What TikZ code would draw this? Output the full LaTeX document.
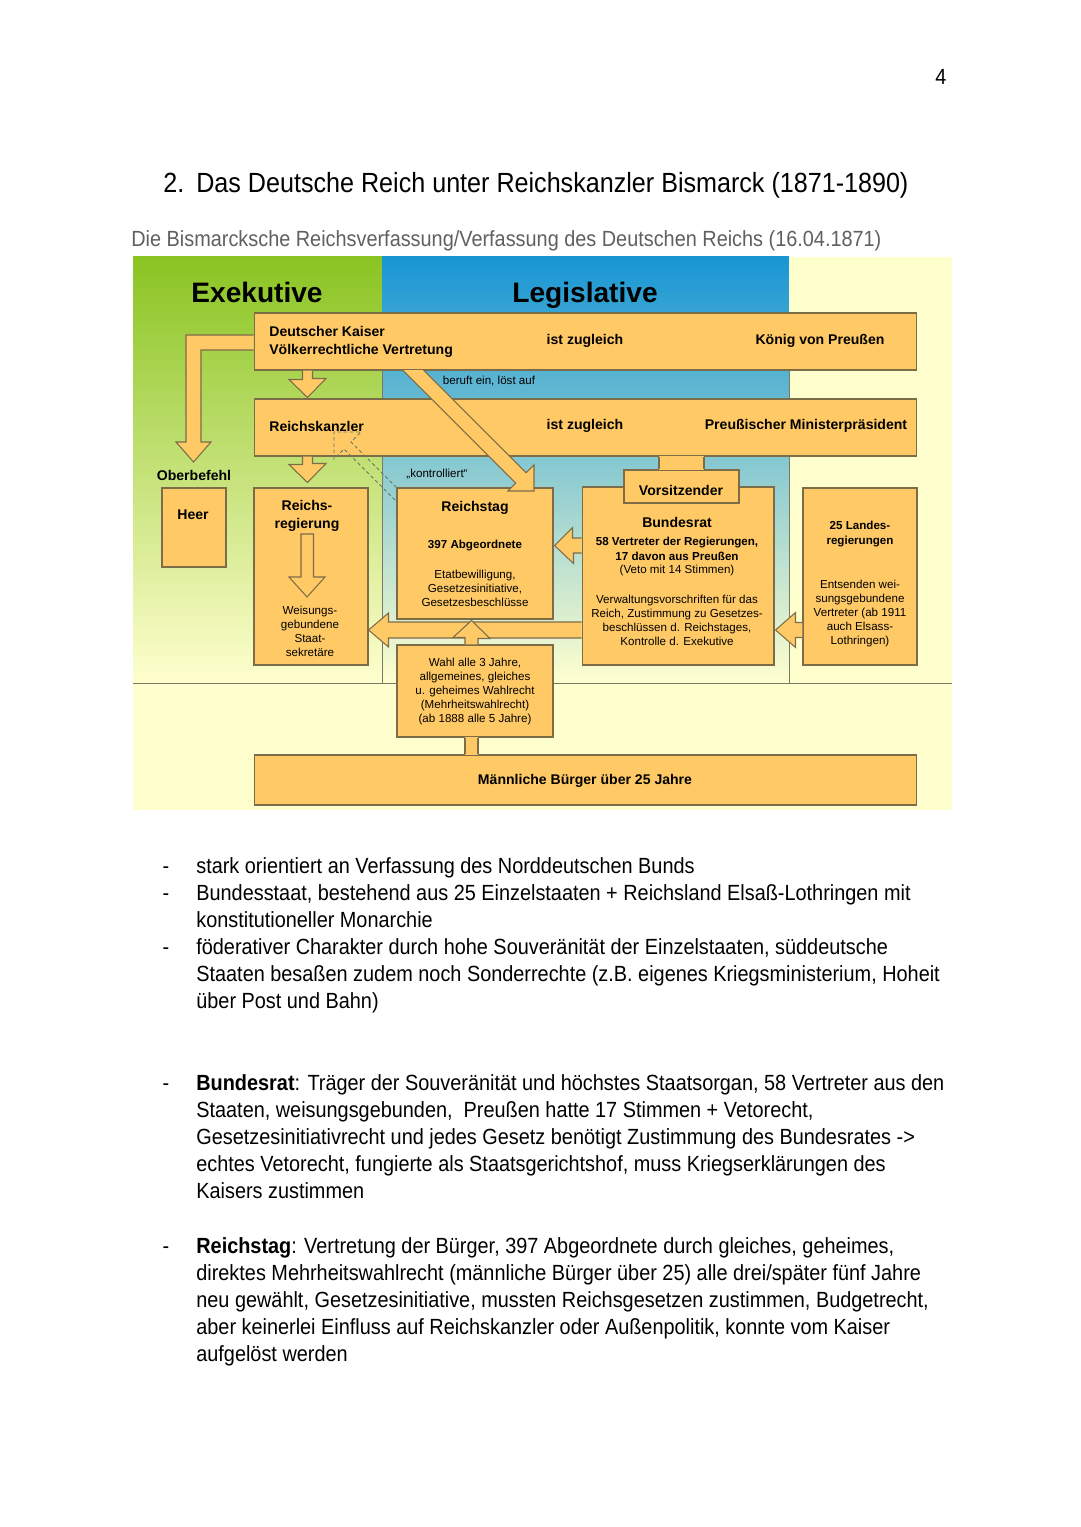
\documentclass[tikz,border=0pt]{standalone}
\usepackage{fontspec}
\setmainfont{Liberation Sans}
\newfontfamily\pagefont{Liberation Sans}[FakeStretch=0.905]
\usetikzlibrary{calc}
\definecolor{boxfill}{RGB}{255,202,102}
\definecolor{boxline}{RGB}{125,108,72}
\definecolor{exgreen}{RGB}{138,196,34}
\definecolor{exmid}{RGB}{200,228,125}
\definecolor{legblue}{RGB}{24,150,212}
\definecolor{legmid}{RGB}{150,196,216}
\definecolor{pale}{RGB}{255,255,206}
\definecolor{divline}{RGB}{120,120,100}
\definecolor{kdashcol}{RGB}{100,120,100}
\definecolor{subgray}{RGB}{96,96,96}
\begin{document}
\begin{tikzpicture}[x=0.02cm,y=-0.02cm]
  \tikzset{bx/.style={draw=boxline,fill=boxfill,line width=0.6pt,rectangle,inner sep=0pt},
    arr/.style={draw=boxline,fill=boxfill,line width=0.6pt},
    bl/.style={draw=boxline,line width=0.6pt},
    kdash/.style={draw=kdashcol,dashed,dash pattern=on 2pt off 1.5pt,line width=0.5pt},
    hd/.style={font=\bfseries\fontsize{16}{19}\selectfont,inner sep=0pt,anchor=base},
    lb/.style={font=\bfseries\fontsize{8}{10.2}\selectfont,inner sep=0pt,align=center},
    sb/.style={font=\bfseries\fontsize{6.6}{8.5}\selectfont,inner sep=0pt,align=center},
    sr/.style={font=\fontsize{6.6}{8}\selectfont,inner sep=0pt,align=center},
    pg/.style={font=\pagefont\fontsize{12.5}{15.4}\selectfont,inner sep=0pt,anchor=base west},
    bul/.style={font=\pagefont\fontsize{12.5}{15.4}\selectfont,inner sep=0pt,anchor=base}}
  \useasboundingbox (0,0) rectangle (1080,1527);
  \fill[white] (0,0) rectangle (1080,1527);
  % page head
  \node[bul] (pnum) at (941,85) {4};
  \node[pg,font=\pagefont\fontsize{15.8}{19}\selectfont] (tnum) at (163,193) {2.};
  \node[pg,font=\pagefont\fontsize{15.8}{19}\selectfont] (title) at (196,193) {Das Deutsche Reich unter Reichskanzler Bismarck (1871-1890)};
  \node[pg,text=subgray] (sub) at (131,247) {Die Bismarcksche Reichsverfassung/Verfassung des Deutschen Reichs (16.04.1871)};
  % background of the chart
  \shade[top color=exgreen,middle color=exmid,bottom color=pale] (133,257) rectangle (382,683);
  \shade[top color=legblue,middle color=legmid,bottom color=pale] (382,257) rectangle (789,683);
  \fill[pale] (789,257) rectangle (952,683);
  \fill[pale] (133,683) rectangle (952,810);
  \draw[divline,line width=0.5pt] (382,313) -- (382,683) (789,313) -- (789,683) (133,683) -- (952,683);
  \node[hd] (exek) at (257,303) {Exekutive};
  \node[hd] (legis) at (585,303) {Legislative};
  % boxes
  \node[bx,minimum width=13.26cm,minimum height=1.14cm] (kaiser) at (585.5,341.5) {};
  \node[bx,minimum width=13.26cm,minimum height=1.14cm] (kanzler) at (585.5,427.5) {};
  \node[bx,minimum width=1.28cm,minimum height=1.58cm] (heer) at (194,527.5) {};
  \node[bx,minimum width=2.28cm,minimum height=3.54cm] (regierung) at (311,576.5) {};
  \node[bx,minimum width=3.12cm,minimum height=2.62cm] (reichstag) at (475,553.5) {};
  \node[bx,minimum width=3.84cm,minimum height=3.56cm] (bundesrat) at (678,576) {};
  \node[bx,minimum width=2.3cm,minimum height=0.66cm] (vorsitz) at (681.5,486.5) {};
  \node[bx,minimum width=2.28cm,minimum height=3.54cm] (landes) at (860,576.5) {};
  \node[bx,minimum width=3.12cm,minimum height=1.84cm] (wahl) at (475,691) {};
  \node[bx,minimum width=13.26cm,minimum height=1cm] (buerger) at (585.5,780) {};
  \coordinate (colA) at (307.5,0);
  \coordinate (colB) at (471.5,0);
  \coordinate (rowB) at (0,545.5);
  \coordinate (rowC) at (0,630);
  % "kontrolliert"
  \draw[kdash] (reichstag.north west) -- (351,442) -- (361,432) -- (334,432) -- (334,459) -- (344,449) -- ($(reichstag.north west)+(0,14)$);
  % block arrows
  \filldraw[arr] ($(kaiser.south -| colA)+(-5,0)$) -- ++(0,9) -- ++(-13.5,0) -- ($(kanzler.north -| colA)+(0,-1)$) -- ++(18.5,-19) -- ++(-13.5,0) -- ($(kaiser.south -| colA)+(5,0)$);
  \filldraw[arr] ($(kanzler.south -| colA)+(-5,0)$) -- ++(0,8) -- ++(-13.5,0) -- ($(regierung.north -| colA)+(0,-5)$) -- ++(18.5,-19) -- ++(-13.5,0) -- ($(kanzler.south -| colA)+(5,0)$);
  \filldraw[arr] ($(kaiser.west)+(0,-6.5)$) -- (186,335) -- (186,442) -- (176,442) -- (193.5,462) -- (211,442) -- (201,442) -- (201,350) -- ($(kaiser.west)+(0,8.5)$);
  \filldraw[arr] (402.6,370) -- (515.7,483.1) -- (507.8,491) -- (534,491) -- (534,464.8) -- (526.1,472.7) -- (423.4,370);
  \filldraw[arr] ($(bundesrat.west |- rowB)+(0,-7.5)$) -- ++(-9,0) -- ++(0,-10.5) -- ($(reichstag.east |- rowB)+(1,0)$) -- ++(19,18) -- ++(0,-10.5) -- ($(bundesrat.west |- rowB)+(0,7.5)$);
  \filldraw[arr] ($(bundesrat.west |- rowC)+(0,-8)$) -- ($(regierung.east |- rowC)+(20,-8)$) -- ++(0,-9) -- (regierung.east |- rowC) -- ++(20,17) -- ++(0,-9) -- ($(bundesrat.west |- rowC)+(0,8)$);
  \filldraw[arr] ($(landes.west |- rowC)+(0,-7.5)$) -- ($(bundesrat.east |- rowC)+(21,-7.5)$) -- ++(0,-10) -- ($(bundesrat.east |- rowC)+(1,0)$) -- ++(20,17.5) -- ++(0,-10) -- ($(landes.west |- rowC)+(0,7.5)$);
  \filldraw[arr] ($(wahl.north -| colB)+(-6.5,0)$) -- ++(0,-7) -- ++(-12,0) -- ($(reichstag.south -| colB)+(0,1)$) -- ++(18.5,18) -- ++(-12,0) -- ($(wahl.north -| colB)+(6.5,0)$);
  \fill[boxfill] ($(wahl.south -| colB)+(-6.5,-1)$) rectangle ($(buerger.north -| colB)+(6.5,1)$);
  \draw[bl] ($(wahl.south -| colB)+(-6.5,0)$) -- ($(buerger.north -| colB)+(-6.5,0)$) ($(wahl.south -| colB)+(6.5,0)$) -- ($(buerger.north -| colB)+(6.5,0)$);
  \fill[boxfill] ($(kanzler.south -| vorsitz)+(-22.5,-1)$) rectangle ($(vorsitz.north)+(22.5,1)$);
  \draw[bl] ($(kanzler.south -| vorsitz)+(-22.5,0)$) -- ($(vorsitz.north)+(-22.5,0)$) ($(kanzler.south -| vorsitz)+(22.5,0)$) -- ($(vorsitz.north)+(22.5,0)$);
  \draw[bl] (301,534) -- (301,577) -- (289,577) -- (307,597) -- (325,577) -- (313.5,577) -- (313.5,534) -- cycle;
  % texts of the chart
  \node[lb,anchor=west,align=left] (kaisertxt) at (269,341.5) {Deutscher Kaiser\\Völkerrechtliche Vertretung};
  \node[lb] (zugl1) at (585,341) {ist zugleich};
  \node[lb] (koenig) at (820,341) {König von Preußen};
  \node[lb,anchor=west] (kanzlertxt) at (269,426) {Reichskanzler};
  \node[lb] (zugl2) at (585,426) {ist zugleich};
  \node[lb] (mp) at (806,426) {Preußischer Ministerpräsident};
  \node[sr] (beruft) at (489,381) {beruft ein, löst auf};
  \node[sr] (kontr) at (437,474) {„kontrolliert“};
  \node[lb] (ober) at (194,475) {Oberbefehl};
  \node[lb] (heertxt) at (193,515) {Heer};
  \node[lb] (regtxt) at (307,516) {Reichs-\\regierung};
  \node[sr] (weis) at (310,631) {Weisungs-\\gebundene\\Staat-\\sekretäre};
  \node[lb] (rtag) at (475,508) {Reichstag};
  \node[sb] (abg) at (475,546) {397 Abgeordnete};
  \node[sr] (etat) at (475,588.5) {Etatbewilligung,\\Gesetzesinitiative,\\Gesetzesbeschlüsse};
  \node[lb] (vors) at (681,490) {Vorsitzender};
  \node[lb] (brat) at (677,522) {Bundesrat};
  \node[sb] (brat58) at (677,548.5) {58 Vertreter der Regierungen,\\17 davon aus Preußen};
  \node[sr] (veto) at (677,570) {(Veto mit 14 Stimmen)};
  \node[sr] (verw) at (677,620) {Verwaltungsvorschriften für das\\Reich, Zustimmung zu Gesetzes-\\beschlüssen d. Reichstages,\\Kontrolle d. Exekutive};
  \node[sb] (l25) at (860,534) {25 Landes-\\regierungen};
  \node[sr] (ents) at (860,613.5) {Entsenden wei-\\sungsgebundene\\Vertreter (ab 1911\\auch Elsass-\\Lothringen)};
  \node[sr] (wahltxt) at (475,691.5) {Wahl alle 3 Jahre,\\allgemeines, gleiches\\u. geheimes Wahlrecht\\(Mehrheitswahlrecht)\\(ab 1888 alle 5 Jahre)};
  \node[lb] (buergtxt) at (585,781) {Männliche Bürger über 25 Jahre};
  % notes below
  \node[bul] (d1) at (166,873) {-};
  \node[bul] (d2) at (166,900) {-};
  \node[bul] (d3) at (166,954) {-};
  \node[bul] (d4) at (166,1090) {-};
  \node[bul] (d5) at (166,1253) {-};
  \node[pg] (n1) at (196,873) {stark orientiert an Verfassung des Norddeutschen Bunds};
  \node[pg] (n2) at (196,900) {Bundesstaat, bestehend aus 25 Einzelstaaten + Reichsland Elsaß-Lothringen mit};
  \node[pg] (n3) at (196,927) {konstitutioneller Monarchie};
  \node[pg] (n4) at (196,954) {föderativer Charakter durch hohe Souveränität der Einzelstaaten, süddeutsche};
  \node[pg] (n5) at (196,981) {Staaten besaßen zudem noch Sonderrechte (z.B. eigenes Kriegsministerium, Hoheit};
  \node[pg] (n6) at (196,1008) {über Post und Bahn)};
  \node[pg] (b1) at (196,1090) {\bfseries Bundesrat\mdseries: Träger der Souveränität und höchstes Staatsorgan, 58 Vertreter aus den};
  \node[pg] (b2) at (196,1117) {Staaten, weisungsgebunden,\ \ Preußen hatte 17 Stimmen + Vetorecht,};
  \node[pg] (b3) at (196,1144) {Gesetzesinitiativrecht und jedes Gesetz benötigt Zustimmung des Bundesrates ->};
  \node[pg] (b4) at (196,1171) {echtes Vetorecht, fungierte als Staatsgerichtshof, muss Kriegserklärungen des};
  \node[pg] (b5) at (196,1198) {Kaisers zustimmen};
  \node[pg] (r1) at (196,1253) {\bfseries Reichstag\mdseries: Vertretung der Bürger, 397 Abgeordnete durch gleiches, geheimes,};
  \node[pg] (r2) at (196,1280) {direktes Mehrheitswahlrecht (männliche Bürger über 25) alle drei/später fünf Jahre};
  \node[pg] (r3) at (196,1307) {neu gewählt, Gesetzesinitiative, mussten Reichsgesetzen zustimmen, Budgetrecht,};
  \node[pg] (r4) at (196,1334) {aber keinerlei Einfluss auf Reichskanzler oder Außenpolitik, konnte vom Kaiser};
  \node[pg] (r5) at (196,1361) {aufgelöst werden};
\end{tikzpicture}
\end{document}
